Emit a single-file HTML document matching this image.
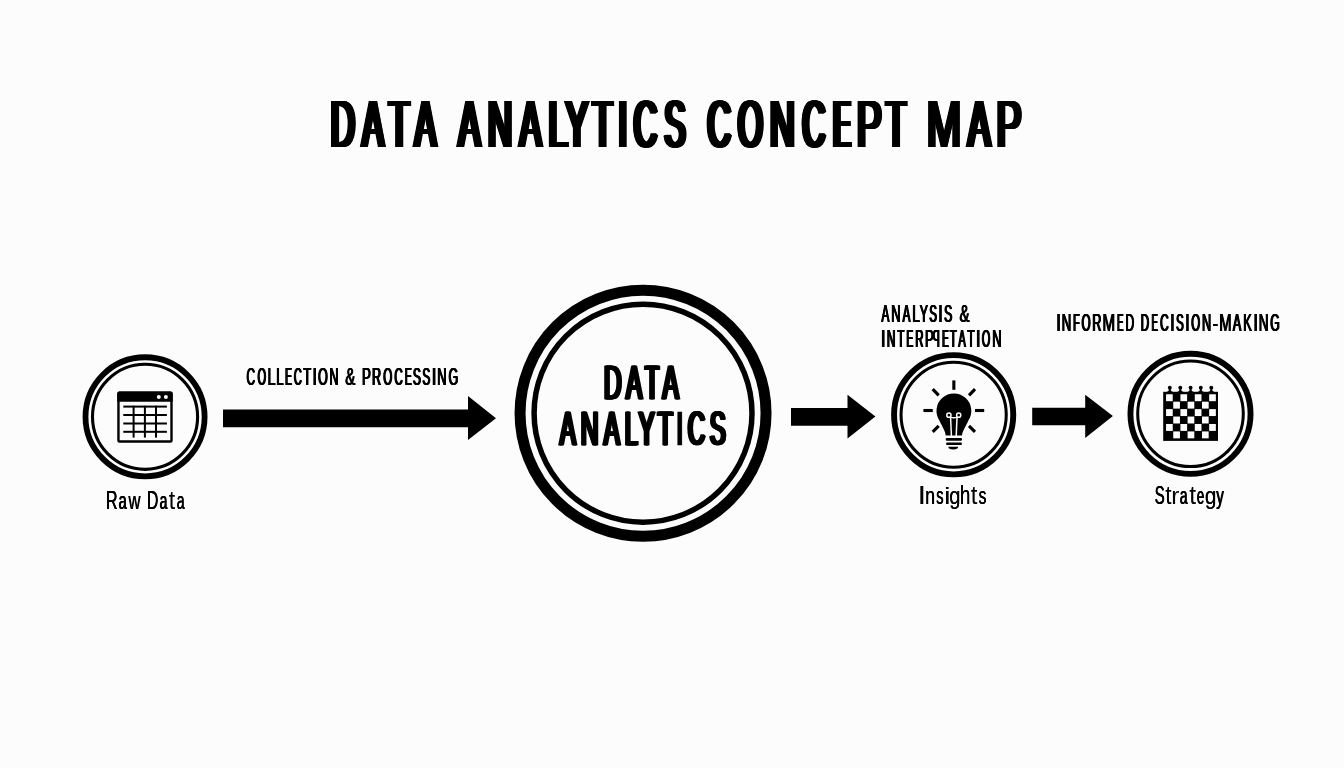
<!DOCTYPE html>
<html><head><meta charset="utf-8"><style>
html,body{margin:0;padding:0;background:#fcfcfc;}
svg{display:block;will-change:transform;}
text{font-family:"Liberation Sans",sans-serif;fill:#000;font-kerning:none;}
</style></head><body>
<svg width="1344" height="768" viewBox="0 0 1344 768">
<rect width="1344" height="768" fill="#fcfcfc"/>
<g fill="none" stroke="#000">
<circle cx="145.05" cy="416.8" r="59.55" stroke-width="5.8"/>
<circle cx="145.05" cy="416.8" r="52.55" stroke-width="3.1"/>
<circle cx="643.05" cy="413.2" r="123" stroke-width="11"/>
<circle cx="643.05" cy="413.2" r="108.95" stroke-width="5.5"/>
<circle cx="953.65" cy="414.75" r="59.6" stroke-width="5.9"/>
<circle cx="953.65" cy="414.75" r="52.6" stroke-width="3.05"/>
<circle cx="1190.5" cy="413.8" r="60.05" stroke-width="5.9"/>
<circle cx="1190.5" cy="413.8" r="52.8" stroke-width="3"/>
</g>
<g fill="#000">
<polygon points="223,409.5 468,409.5 468,396 496,418.2 468,440 468,427.2 223,427.2"/>
<polygon points="791,408.1 847.5,408.1 847.5,394.8 875.4,416.5 847.5,438.6 847.5,425.8 791,425.8"/>
<polygon points="1032.2,407.8 1085.2,407.8 1085.2,394.8 1112.9,415.9 1085.2,438.1 1085.2,425.2 1032.2,425.2"/>
</g>
<!-- table icon -->
<g>
<rect x="118.45" y="392.7" width="53.05" height="48.8" rx="1" fill="none" stroke="#000" stroke-width="2.4"/>
<path d="M117.25 401.7 V393.5 Q117.25 391.5 119.25 391.5 H170.7 Q172.7 391.5 172.7 393.5 V401.7 Z" fill="#000"/>
<circle cx="158.8" cy="396.9" r="2" fill="#fcfcfc"/>
<circle cx="165.9" cy="396.9" r="2" fill="#fcfcfc"/>
<g fill="#000">
<rect x="123.3" y="405.6" width="43.6" height="2"/>
<rect x="123.3" y="414" width="43.6" height="2"/>
<rect x="123.3" y="422.5" width="43.6" height="2"/>
<rect x="123.3" y="430.8" width="43.6" height="2"/>
<rect x="132.6" y="405.8" width="2" height="31.8"/>
<rect x="143.9" y="405.8" width="2" height="31.8"/>
<rect x="155" y="405.8" width="2" height="31.8"/>
</g>
</g>
<!-- bulb icon -->
<g>
<g stroke="#000" stroke-width="3.1" fill="none">
<line x1="953.85" y1="380.4" x2="953.85" y2="389.8"/>
<line x1="923.4" y1="410.5" x2="932.8" y2="410.5"/>
<line x1="975.0" y1="410.5" x2="984.2" y2="410.5"/>
<line x1="932.7" y1="389.1" x2="938.7" y2="395.4"/>
<line x1="975.0" y1="389.1" x2="969.0" y2="395.4"/>
<line x1="932.7" y1="431.9" x2="938.7" y2="425.9"/>
<line x1="975.0" y1="431.9" x2="969.0" y2="425.9"/>
</g>
<path d="M945.7 435.6 C945.6 431.5 942 426.5 939.4 420.5 A17.4 17.4 0 1 1 968.4 420.5 C965.8 426.5 962.2 431.5 962 435.6 Z" fill="#000"/>
<g stroke="#fcfcfc" stroke-width="1.5" fill="none">
<circle cx="948.9" cy="415.2" r="2.1"/>
<circle cx="958.7" cy="415.2" r="2.1"/>
<path d="M950.3 417.1 Q953.8 418.2 957.3 417.1"/>
<path d="M950.6 417.6 L951.4 436"/>
<path d="M957.0 417.6 L956.2 436"/>
</g>
<rect x="945.7" y="438.1" width="16.3" height="2.6" rx="1.2" fill="#000"/>
<rect x="946" y="442.5" width="16" height="2.5" rx="1.2" fill="#000"/>
<path d="M948.4 446.7 L958.1 446.7 C958.1 448.6 956.5 449.4 953.25 449.4 C950 449.4 948.4 448.6 948.4 446.7 Z" fill="#000"/>
</g>
<!-- chess icon -->
<g>
<rect x="1163.2" y="391.8" width="54.80" height="49.10" fill="#000"/>
<rect x="1166.05" y="394.25" width="6.69" height="6.93" fill="#fcfcfc"/>
<rect x="1180.42" y="394.25" width="6.69" height="6.93" fill="#fcfcfc"/>
<rect x="1194.79" y="394.25" width="6.69" height="6.93" fill="#fcfcfc"/>
<rect x="1209.16" y="394.25" width="6.69" height="6.93" fill="#fcfcfc"/>
<rect x="1173.24" y="401.68" width="6.69" height="6.93" fill="#fcfcfc"/>
<rect x="1187.61" y="401.68" width="6.69" height="6.93" fill="#fcfcfc"/>
<rect x="1201.98" y="401.68" width="6.69" height="6.93" fill="#fcfcfc"/>
<rect x="1166.05" y="409.12" width="6.69" height="6.93" fill="#fcfcfc"/>
<rect x="1180.42" y="409.12" width="6.69" height="6.93" fill="#fcfcfc"/>
<rect x="1194.79" y="409.12" width="6.69" height="6.93" fill="#fcfcfc"/>
<rect x="1209.16" y="409.12" width="6.69" height="6.93" fill="#fcfcfc"/>
<rect x="1173.24" y="416.55" width="6.69" height="6.93" fill="#fcfcfc"/>
<rect x="1187.61" y="416.55" width="6.69" height="6.93" fill="#fcfcfc"/>
<rect x="1201.98" y="416.55" width="6.69" height="6.93" fill="#fcfcfc"/>
<rect x="1166.05" y="423.98" width="6.69" height="6.93" fill="#fcfcfc"/>
<rect x="1180.42" y="423.98" width="6.69" height="6.93" fill="#fcfcfc"/>
<rect x="1194.79" y="423.98" width="6.69" height="6.93" fill="#fcfcfc"/>
<rect x="1209.16" y="423.98" width="6.69" height="6.93" fill="#fcfcfc"/>
<rect x="1173.24" y="431.42" width="6.69" height="6.93" fill="#fcfcfc"/>
<rect x="1187.61" y="431.42" width="6.69" height="6.93" fill="#fcfcfc"/>
<rect x="1201.98" y="431.42" width="6.69" height="6.93" fill="#fcfcfc"/>
<circle cx="1169.8" cy="387.7" r="1.95" fill="#000"/>
<path d="M1168.90 388.5 L1170.70 388.5 L1170.70 390 Q1171.00 391.4 1173.10 392 L1166.50 392 Q1168.60 391.4 1168.90 390 Z" fill="#000"/>
<circle cx="1180.3" cy="387.7" r="1.95" fill="#000"/>
<path d="M1179.40 388.5 L1181.20 388.5 L1181.20 390 Q1181.50 391.4 1183.60 392 L1177.00 392 Q1179.10 391.4 1179.40 390 Z" fill="#000"/>
<circle cx="1190.6" cy="387.7" r="1.95" fill="#000"/>
<path d="M1189.70 388.5 L1191.50 388.5 L1191.50 390 Q1191.80 391.4 1193.90 392 L1187.30 392 Q1189.40 391.4 1189.70 390 Z" fill="#000"/>
<circle cx="1200.8" cy="387.7" r="1.95" fill="#000"/>
<path d="M1199.90 388.5 L1201.70 388.5 L1201.70 390 Q1202.00 391.4 1204.10 392 L1197.50 392 Q1199.60 391.4 1199.90 390 Z" fill="#000"/>
<circle cx="1211.3" cy="387.7" r="1.95" fill="#000"/>
<path d="M1210.40 388.5 L1212.20 388.5 L1212.20 390 Q1212.50 391.4 1214.60 392 L1208.00 392 Q1210.10 391.4 1210.40 390 Z" fill="#000"/>
</g>

<g>
<text id="g1" transform="translate(328.26 146.99) scale(0.5005 1.000)" font-size="66.83" font-weight="400">D</text><use href="#g1" x="0.49"/><use href="#g1" x="0.98"/><use href="#g1" x="1.46"/><use href="#g1" x="1.95"/><use href="#g1" x="2.44"/><use href="#g1" x="2.93"/><use href="#g1" x="3.42"/><use href="#g1" x="3.90"/><use href="#g1" x="4.39"/><use href="#g1" x="4.88"/>
<text id="g2" transform="translate(359.84 146.99) scale(0.4777 1.000)" font-size="66.83" font-weight="400">A</text><use href="#g2" x="0.46"/><use href="#g2" x="0.91"/><use href="#g2" x="1.37"/><use href="#g2" x="1.83"/><use href="#g2" x="2.28"/><use href="#g2" x="2.74"/><use href="#g2" x="3.20"/><use href="#g2" x="3.65"/><use href="#g2" x="4.11"/><use href="#g2" x="4.56"/><use href="#g2" x="5.02"/>
<text id="g3" transform="translate(386.55 146.99) scale(0.5004 1.000)" font-size="66.83" font-weight="400">T</text><use href="#g3" x="0.49"/><use href="#g3" x="0.98"/><use href="#g3" x="1.46"/><use href="#g3" x="1.95"/><use href="#g3" x="2.44"/><use href="#g3" x="2.93"/><use href="#g3" x="3.42"/><use href="#g3" x="3.90"/><use href="#g3" x="4.39"/><use href="#g3" x="4.88"/>
<text id="g4" transform="translate(412.24 146.99) scale(0.4777 1.000)" font-size="66.83" font-weight="400">A</text><use href="#g4" x="0.46"/><use href="#g4" x="0.91"/><use href="#g4" x="1.37"/><use href="#g4" x="1.83"/><use href="#g4" x="2.28"/><use href="#g4" x="2.74"/><use href="#g4" x="3.20"/><use href="#g4" x="3.65"/><use href="#g4" x="4.11"/><use href="#g4" x="4.56"/><use href="#g4" x="5.02"/>
<text id="g5" transform="translate(456.04 146.99) scale(0.4882 1.000)" font-size="66.83" font-weight="400">A</text><use href="#g5" x="0.50"/><use href="#g5" x="0.99"/><use href="#g5" x="1.49"/><use href="#g5" x="1.98"/><use href="#g5" x="2.48"/><use href="#g5" x="2.97"/><use href="#g5" x="3.47"/><use href="#g5" x="3.96"/><use href="#g5" x="4.46"/><use href="#g5" x="4.96"/>
<text id="g6" transform="translate(485.44 146.99) scale(0.5046 1.000)" font-size="66.83" font-weight="400">N</text><use href="#g6" x="0.49"/><use href="#g6" x="0.97"/><use href="#g6" x="1.46"/><use href="#g6" x="1.94"/><use href="#g6" x="2.43"/><use href="#g6" x="2.91"/><use href="#g6" x="3.40"/><use href="#g6" x="3.88"/><use href="#g6" x="4.37"/><use href="#g6" x="4.85"/>
<text id="g7" transform="translate(517.14 146.99) scale(0.4869 1.000)" font-size="66.83" font-weight="400">A</text><use href="#g7" x="0.50"/><use href="#g7" x="0.99"/><use href="#g7" x="1.49"/><use href="#g7" x="1.99"/><use href="#g7" x="2.48"/><use href="#g7" x="2.98"/><use href="#g7" x="3.47"/><use href="#g7" x="3.97"/><use href="#g7" x="4.47"/><use href="#g7" x="4.96"/>
<text id="g8" transform="translate(546.05 146.99) scale(0.5204 1.000)" font-size="66.83" font-weight="400">L</text><use href="#g8" x="0.48"/><use href="#g8" x="0.95"/><use href="#g8" x="1.43"/><use href="#g8" x="1.90"/><use href="#g8" x="2.38"/><use href="#g8" x="2.85"/><use href="#g8" x="3.33"/><use href="#g8" x="3.80"/><use href="#g8" x="4.28"/><use href="#g8" x="4.75"/>
<text id="g9" transform="translate(562.95 146.99) scale(0.5166 1.000)" font-size="66.83" font-weight="400">Y</text><use href="#g9" x="0.48"/><use href="#g9" x="0.96"/><use href="#g9" x="1.43"/><use href="#g9" x="1.91"/><use href="#g9" x="2.39"/><use href="#g9" x="2.87"/><use href="#g9" x="3.34"/><use href="#g9" x="3.82"/><use href="#g9" x="4.30"/><use href="#g9" x="4.78"/>
<text id="g10" transform="translate(590.18 146.99) scale(0.4814 1.000)" font-size="66.83" font-weight="400">T</text><use href="#g10" x="0.50"/><use href="#g10" x="1.00"/><use href="#g10" x="1.50"/><use href="#g10" x="2.00"/><use href="#g10" x="2.50"/><use href="#g10" x="3.00"/><use href="#g10" x="3.50"/><use href="#g10" x="4.00"/><use href="#g10" x="4.50"/><use href="#g10" x="5.00"/>
<text id="g11" transform="translate(612.84 146.99) scale(1.0000 1.000)" font-size="66.83" font-weight="400">I</text><use href="#g11" x="0.45"/><use href="#g11" x="0.90"/><use href="#g11" x="1.35"/>
<text id="g12" transform="translate(631.27 146.99) scale(0.4819 1.000)" font-size="66.83" font-weight="400">C</text><use href="#g12" x="0.50"/><use href="#g12" x="1.00"/><use href="#g12" x="1.50"/><use href="#g12" x="2.00"/><use href="#g12" x="2.50"/><use href="#g12" x="3.00"/><use href="#g12" x="3.50"/><use href="#g12" x="4.00"/><use href="#g12" x="4.50"/><use href="#g12" x="4.99"/>
<text id="g13" transform="translate(661.97 146.99) scale(0.4712 1.000)" font-size="66.83" font-weight="400">S</text><use href="#g13" x="0.46"/><use href="#g13" x="0.92"/><use href="#g13" x="1.38"/><use href="#g13" x="1.84"/><use href="#g13" x="2.30"/><use href="#g13" x="2.76"/><use href="#g13" x="3.22"/><use href="#g13" x="3.68"/><use href="#g13" x="4.14"/><use href="#g13" x="4.60"/><use href="#g13" x="5.06"/>
<text id="g14" transform="translate(705.07 146.99) scale(0.4819 1.000)" font-size="66.83" font-weight="400">C</text><use href="#g14" x="0.50"/><use href="#g14" x="1.00"/><use href="#g14" x="1.50"/><use href="#g14" x="2.00"/><use href="#g14" x="2.50"/><use href="#g14" x="3.00"/><use href="#g14" x="3.50"/><use href="#g14" x="4.00"/><use href="#g14" x="4.50"/><use href="#g14" x="4.99"/>
<text id="g15" transform="translate(735.49 146.99) scale(0.4771 1.000)" font-size="66.83" font-weight="400">O</text><use href="#g15" x="0.46"/><use href="#g15" x="0.91"/><use href="#g15" x="1.37"/><use href="#g15" x="1.83"/><use href="#g15" x="2.28"/><use href="#g15" x="2.74"/><use href="#g15" x="3.20"/><use href="#g15" x="3.65"/><use href="#g15" x="4.11"/><use href="#g15" x="4.57"/><use href="#g15" x="5.02"/>
<text id="g16" transform="translate(767.47 146.99) scale(0.5174 1.000)" font-size="66.83" font-weight="400">N</text><use href="#g16" x="0.48"/><use href="#g16" x="0.95"/><use href="#g16" x="1.43"/><use href="#g16" x="1.91"/><use href="#g16" x="2.39"/><use href="#g16" x="2.86"/><use href="#g16" x="3.34"/><use href="#g16" x="3.82"/><use href="#g16" x="4.30"/><use href="#g16" x="4.77"/>
<text id="g17" transform="translate(799.91 146.99) scale(0.4708 1.000)" font-size="66.83" font-weight="400">C</text><use href="#g17" x="0.46"/><use href="#g17" x="0.92"/><use href="#g17" x="1.38"/><use href="#g17" x="1.84"/><use href="#g17" x="2.30"/><use href="#g17" x="2.76"/><use href="#g17" x="3.22"/><use href="#g17" x="3.68"/><use href="#g17" x="4.14"/><use href="#g17" x="4.60"/><use href="#g17" x="5.06"/>
<text id="g18" transform="translate(830.76 146.99) scale(0.3733 1.000)" font-size="66.83" font-weight="400">E</text><use href="#g18" x="0.47"/><use href="#g18" x="0.95"/><use href="#g18" x="1.42"/><use href="#g18" x="1.89"/><use href="#g18" x="2.36"/><use href="#g18" x="2.84"/><use href="#g18" x="3.31"/><use href="#g18" x="3.78"/><use href="#g18" x="4.25"/><use href="#g18" x="4.73"/><use href="#g18" x="5.20"/><use href="#g18" x="5.67"/>
<text id="g19" transform="translate(854.42 146.99) scale(0.5621 1.000)" font-size="66.83" font-weight="400">P</text><use href="#g19" x="0.50"/><use href="#g19" x="1.00"/><use href="#g19" x="1.50"/><use href="#g19" x="2.00"/><use href="#g19" x="2.50"/><use href="#g19" x="3.00"/><use href="#g19" x="3.50"/><use href="#g19" x="4.00"/><use href="#g19" x="4.49"/>
<text id="g20" transform="translate(883.68 146.99) scale(0.4814 1.000)" font-size="66.83" font-weight="400">T</text><use href="#g20" x="0.50"/><use href="#g20" x="1.00"/><use href="#g20" x="1.50"/><use href="#g20" x="2.00"/><use href="#g20" x="2.50"/><use href="#g20" x="3.00"/><use href="#g20" x="3.50"/><use href="#g20" x="4.00"/><use href="#g20" x="4.50"/><use href="#g20" x="5.00"/>
<text id="g21" transform="translate(924.72 146.99) scale(0.6183 1.000)" font-size="66.83" font-weight="400">M</text><use href="#g21" x="0.46"/><use href="#g21" x="0.92"/><use href="#g21" x="1.38"/><use href="#g21" x="1.84"/><use href="#g21" x="2.30"/><use href="#g21" x="2.76"/><use href="#g21" x="3.22"/><use href="#g21" x="3.68"/><use href="#g21" x="4.14"/>
<text id="g22" transform="translate(965.54 146.99) scale(0.5013 1.000)" font-size="66.83" font-weight="400">A</text><use href="#g22" x="0.49"/><use href="#g22" x="0.97"/><use href="#g22" x="1.46"/><use href="#g22" x="1.95"/><use href="#g22" x="2.44"/><use href="#g22" x="2.92"/><use href="#g22" x="3.41"/><use href="#g22" x="3.90"/><use href="#g22" x="4.39"/><use href="#g22" x="4.87"/>
<text id="g23" transform="translate(994.32 146.99) scale(0.5621 1.000)" font-size="66.83" font-weight="400">P</text><use href="#g23" x="0.50"/><use href="#g23" x="1.00"/><use href="#g23" x="1.50"/><use href="#g23" x="2.00"/><use href="#g23" x="2.50"/><use href="#g23" x="3.00"/><use href="#g23" x="3.50"/><use href="#g23" x="4.00"/><use href="#g23" x="4.49"/>
<text id="g24" transform="translate(245.90 385.40) scale(0.4909 1.000)" font-size="24.13" font-weight="400">C</text><use href="#g24" x="0.40"/><use href="#g24" x="0.80"/><use href="#g24" x="1.20"/>
<text id="g25" transform="translate(256.89 385.40) scale(0.4499 1.000)" font-size="24.13" font-weight="400">O</text><use href="#g25" x="0.43"/><use href="#g25" x="0.86"/><use href="#g25" x="1.29"/>
<text id="g26" transform="translate(267.10 385.40) scale(0.6075 1.000)" font-size="24.13" font-weight="400">L</text><use href="#g26" x="0.47"/><use href="#g26" x="0.94"/>
<text id="g27" transform="translate(275.72 385.40) scale(0.5480 1.000)" font-size="24.13" font-weight="400">L</text><use href="#g27" x="0.36"/><use href="#g27" x="0.71"/><use href="#g27" x="1.07"/>
<text id="g28" transform="translate(284.50 385.40) scale(0.4062 1.000)" font-size="24.13" font-weight="400">E</text><use href="#g28" x="0.46"/><use href="#g28" x="0.93"/><use href="#g28" x="1.39"/>
<text id="g29" transform="translate(293.25 385.40) scale(0.4526 1.000)" font-size="24.13" font-weight="400">C</text><use href="#g29" x="0.43"/><use href="#g29" x="0.86"/><use href="#g29" x="1.28"/>
<text id="g30" transform="translate(302.81 385.40) scale(0.5264 1.000)" font-size="24.13" font-weight="400">T</text><use href="#g30" x="0.37"/><use href="#g30" x="0.75"/><use href="#g30" x="1.12"/>
<text id="g31" transform="translate(311.17 385.40) scale(1.0000 1.000)" font-size="24.13" font-weight="400">I</text><use href="#g31" x="0.25"/>
<text id="g32" transform="translate(317.51 385.40) scale(0.5131 1.000)" font-size="24.13" font-weight="400">O</text><use href="#g32" x="0.38"/><use href="#g32" x="0.77"/><use href="#g32" x="1.15"/>
<text id="g33" transform="translate(328.88 385.40) scale(0.5163 1.000)" font-size="24.13" font-weight="400">N</text><use href="#g33" x="0.38"/><use href="#g33" x="0.76"/><use href="#g33" x="1.14"/>
<text id="g34" transform="translate(344.77 385.40) scale(0.6258 1.000)" font-size="24.13" font-weight="400">&amp;</text><use href="#g34" x="0.45"/><use href="#g34" x="0.90"/>
<text id="g35" transform="translate(361.40 385.40) scale(0.5567 1.000)" font-size="24.13" font-weight="400">P</text><use href="#g35" x="0.35"/><use href="#g35" x="0.70"/><use href="#g35" x="1.05"/>
<text id="g36" transform="translate(371.48 385.40) scale(0.5132 1.000)" font-size="24.13" font-weight="400">R</text><use href="#g36" x="0.38"/><use href="#g36" x="0.77"/><use href="#g36" x="1.15"/>
<text id="g37" transform="translate(382.66 385.40) scale(0.4710 1.000)" font-size="24.13" font-weight="400">O</text><use href="#g37" x="0.41"/><use href="#g37" x="0.83"/><use href="#g37" x="1.24"/>
<text id="g38" transform="translate(393.82 385.40) scale(0.4756 1.000)" font-size="24.13" font-weight="400">C</text><use href="#g38" x="0.41"/><use href="#g38" x="0.82"/><use href="#g38" x="1.23"/>
<text id="g39" transform="translate(404.26 385.40) scale(0.4246 1.000)" font-size="24.13" font-weight="400">E</text><use href="#g39" x="0.45"/><use href="#g39" x="0.90"/><use href="#g39" x="1.35"/>
<text id="g40" transform="translate(412.35 385.40) scale(0.4980 1.000)" font-size="24.13" font-weight="400">S</text><use href="#g40" x="0.39"/><use href="#g40" x="0.79"/><use href="#g40" x="1.18"/>
<text id="g41" transform="translate(421.76 385.40) scale(0.4894 1.000)" font-size="24.13" font-weight="400">S</text><use href="#g41" x="0.40"/><use href="#g41" x="0.80"/><use href="#g41" x="1.20"/>
<text id="g42" transform="translate(430.57 385.40) scale(1.0000 1.000)" font-size="24.13" font-weight="400">I</text><use href="#g42" x="0.45"/>
<text id="g43" transform="translate(436.64 385.40) scale(0.5341 1.000)" font-size="24.13" font-weight="400">N</text><use href="#g43" x="0.37"/><use href="#g43" x="0.73"/><use href="#g43" x="1.10"/>
<text id="g44" transform="translate(447.98 385.40) scale(0.5108 1.000)" font-size="24.13" font-weight="400">G</text><use href="#g44" x="0.38"/><use href="#g44" x="0.77"/><use href="#g44" x="1.15"/>
<text id="g45" transform="translate(602.40 398.69) scale(0.5174 1.000)" font-size="47.22" font-weight="400" stroke="#000" stroke-width="0.41">D</text><use href="#g45" x="0.44"/><use href="#g45" x="0.89"/><use href="#g45" x="1.33"/><use href="#g45" x="1.78"/><use href="#g45" x="2.22"/><use href="#g45" x="2.67"/><use href="#g45" x="3.11"/>
<text id="g46" transform="translate(624.46 398.69) scale(0.5052 1.000)" font-size="47.22" font-weight="400" stroke="#000" stroke-width="0.41">A</text><use href="#g46" x="0.45"/><use href="#g46" x="0.91"/><use href="#g46" x="1.36"/><use href="#g46" x="1.81"/><use href="#g46" x="2.27"/><use href="#g46" x="2.72"/><use href="#g46" x="3.17"/>
<text id="g47" transform="translate(643.60 398.69) scale(0.4707 1.000)" font-size="47.22" font-weight="400" stroke="#000" stroke-width="0.41">T</text><use href="#g47" x="0.48"/><use href="#g47" x="0.95"/><use href="#g47" x="1.43"/><use href="#g47" x="1.91"/><use href="#g47" x="2.39"/><use href="#g47" x="2.86"/><use href="#g47" x="3.34"/>
<text id="g48" transform="translate(661.06 398.69) scale(0.5089 1.000)" font-size="47.22" font-weight="400" stroke="#000" stroke-width="0.41">A</text><use href="#g48" x="0.45"/><use href="#g48" x="0.90"/><use href="#g48" x="1.35"/><use href="#g48" x="1.80"/><use href="#g48" x="2.25"/><use href="#g48" x="2.71"/><use href="#g48" x="3.16"/>
<text id="g49" transform="translate(558.25 445.01) scale(0.5017 1.000)" font-size="47.55" font-weight="400" stroke="#000" stroke-width="0.39">A</text><use href="#g49" x="0.46"/><use href="#g49" x="0.91"/><use href="#g49" x="1.37"/><use href="#g49" x="1.82"/><use href="#g49" x="2.28"/><use href="#g49" x="2.73"/><use href="#g49" x="3.19"/>
<text id="g50" transform="translate(579.17 445.01) scale(0.5195 1.000)" font-size="47.55" font-weight="400" stroke="#000" stroke-width="0.39">N</text><use href="#g50" x="0.44"/><use href="#g50" x="0.89"/><use href="#g50" x="1.33"/><use href="#g50" x="1.77"/><use href="#g50" x="2.22"/><use href="#g50" x="2.66"/><use href="#g50" x="3.10"/>
<text id="g51" transform="translate(602.25 445.01) scale(0.4980 1.000)" font-size="47.55" font-weight="400" stroke="#000" stroke-width="0.39">A</text><use href="#g51" x="0.46"/><use href="#g51" x="0.92"/><use href="#g51" x="1.37"/><use href="#g51" x="1.83"/><use href="#g51" x="2.29"/><use href="#g51" x="2.75"/><use href="#g51" x="3.21"/>
<text id="g52" transform="translate(623.21 445.01) scale(0.4836 1.000)" font-size="47.55" font-weight="400" stroke="#000" stroke-width="0.39">L</text><use href="#g52" x="0.47"/><use href="#g52" x="0.94"/><use href="#g52" x="1.40"/><use href="#g52" x="1.87"/><use href="#g52" x="2.34"/><use href="#g52" x="2.81"/><use href="#g52" x="3.27"/>
<text id="g53" transform="translate(637.07 445.01) scale(0.5039 1.000)" font-size="47.55" font-weight="400" stroke="#000" stroke-width="0.39">Y</text><use href="#g53" x="0.45"/><use href="#g53" x="0.91"/><use href="#g53" x="1.36"/><use href="#g53" x="1.82"/><use href="#g53" x="2.27"/><use href="#g53" x="2.72"/><use href="#g53" x="3.18"/>
<text id="g54" transform="translate(656.14 445.01) scale(0.5208 1.000)" font-size="47.55" font-weight="400" stroke="#000" stroke-width="0.39">T</text><use href="#g54" x="0.44"/><use href="#g54" x="0.88"/><use href="#g54" x="1.33"/><use href="#g54" x="1.77"/><use href="#g54" x="2.21"/><use href="#g54" x="2.65"/><use href="#g54" x="3.10"/>
<text id="g55" transform="translate(673.40 445.01) scale(0.9542 1.000)" font-size="47.55" font-weight="400" stroke="#000" stroke-width="0.39">I</text>
<text id="g56" transform="translate(686.19 445.01) scale(0.4982 1.000)" font-size="47.55" font-weight="400" stroke="#000" stroke-width="0.39">C</text><use href="#g56" x="0.46"/><use href="#g56" x="0.92"/><use href="#g56" x="1.37"/><use href="#g56" x="1.83"/><use href="#g56" x="2.29"/><use href="#g56" x="2.75"/><use href="#g56" x="3.20"/>
<text id="g57" transform="translate(708.22 445.01) scale(0.4967 1.000)" font-size="47.55" font-weight="400" stroke="#000" stroke-width="0.39">S</text><use href="#g57" x="0.46"/><use href="#g57" x="0.92"/><use href="#g57" x="1.38"/><use href="#g57" x="1.84"/><use href="#g57" x="2.29"/><use href="#g57" x="2.75"/><use href="#g57" x="3.21"/>
<text id="g58" transform="translate(880.88 322.09) scale(0.5030 1.000)" font-size="23.37" font-weight="400">A</text><use href="#g58" x="0.40"/><use href="#g58" x="0.80"/><use href="#g58" x="1.19"/>
<text id="g59" transform="translate(890.75 322.09) scale(0.5515 1.000)" font-size="23.37" font-weight="400">N</text><use href="#g59" x="0.36"/><use href="#g59" x="0.73"/><use href="#g59" x="1.09"/>
<text id="g60" transform="translate(901.98 322.09) scale(0.4955 1.000)" font-size="23.37" font-weight="400">A</text><use href="#g60" x="0.40"/><use href="#g60" x="0.81"/><use href="#g60" x="1.21"/>
<text id="g61" transform="translate(911.68 322.09) scale(0.5904 1.000)" font-size="23.37" font-weight="400">L</text><use href="#g61" x="0.33"/><use href="#g61" x="0.67"/><use href="#g61" x="1.00"/>
<text id="g62" transform="translate(919.14 322.09) scale(0.5248 1.000)" font-size="23.37" font-weight="400">Y</text><use href="#g62" x="0.38"/><use href="#g62" x="0.76"/><use href="#g62" x="1.15"/>
<text id="g63" transform="translate(928.69 322.09) scale(0.4877 1.000)" font-size="23.37" font-weight="400">S</text><use href="#g63" x="0.41"/><use href="#g63" x="0.82"/><use href="#g63" x="1.23"/>
<text id="g64" transform="translate(937.06 322.09) scale(1.0000 1.000)" font-size="23.37" font-weight="400">I</text><use href="#g64" x="0.50"/>
<text id="g65" transform="translate(943.55 322.09) scale(0.5231 1.000)" font-size="23.37" font-weight="400">S</text><use href="#g65" x="0.38"/><use href="#g65" x="0.77"/><use href="#g65" x="1.15"/>
<text id="g66" transform="translate(959.08 322.09) scale(0.6462 1.000)" font-size="23.37" font-weight="400">&amp;</text><use href="#g66" x="0.44"/><use href="#g66" x="0.88"/>
<text id="g67" transform="translate(879.86 346.69) scale(1.0000 1.000)" font-size="23.37" font-weight="400">I</text><use href="#g67" x="0.50"/>
<text id="g68" transform="translate(886.34 346.69) scale(0.5056 1.000)" font-size="23.37" font-weight="400">N</text><use href="#g68" x="0.40"/><use href="#g68" x="0.79"/><use href="#g68" x="1.19"/>
<text id="g69" transform="translate(896.75 346.69) scale(0.4892 1.000)" font-size="23.37" font-weight="400">T</text><use href="#g69" x="0.41"/><use href="#g69" x="0.82"/><use href="#g69" x="1.23"/>
<text id="g70" transform="translate(905.76 346.69) scale(0.4385 1.000)" font-size="23.37" font-weight="400">E</text><use href="#g70" x="0.45"/><use href="#g70" x="0.89"/><use href="#g70" x="1.34"/>
<text id="g71" transform="translate(914.69 346.69) scale(0.4786 1.000)" font-size="23.37" font-weight="400">R</text><use href="#g71" x="0.42"/><use href="#g71" x="0.83"/><use href="#g71" x="1.25"/>
<text id="g72" transform="translate(924.52 346.69) scale(0.5651 1.000)" font-size="23.37" font-weight="400">P</text><use href="#g72" x="0.35"/><use href="#g72" x="0.71"/><use href="#g72" x="1.06"/>
<g transform="translate(1872.10 0) scale(-1 1)"><text id="g73" transform="translate(931.75 346.69) scale(0.4482 1.000)" font-size="23.37" font-weight="400">P</text><use href="#g73" x="0.44"/><use href="#g73" x="0.88"/><use href="#g73" x="1.32"/></g>
<text id="g74" transform="translate(941.52 346.69) scale(0.4099 1.000)" font-size="23.37" font-weight="400">E</text><use href="#g74" x="0.47"/><use href="#g74" x="0.93"/><use href="#g74" x="1.40"/>
<text id="g75" transform="translate(949.15 346.69) scale(0.4801 1.000)" font-size="23.37" font-weight="400">T</text><use href="#g75" x="0.42"/><use href="#g75" x="0.83"/><use href="#g75" x="1.25"/>
<text id="g76" transform="translate(957.78 346.69) scale(0.4730 1.000)" font-size="23.37" font-weight="400">A</text><use href="#g76" x="0.42"/><use href="#g76" x="0.84"/><use href="#g76" x="1.26"/>
<text id="g77" transform="translate(966.63 346.69) scale(0.5254 1.000)" font-size="23.37" font-weight="400">T</text><use href="#g77" x="0.38"/><use href="#g77" x="0.76"/><use href="#g77" x="1.15"/>
<text id="g78" transform="translate(974.86 346.69) scale(1.0000 1.000)" font-size="23.37" font-weight="400">I</text><use href="#g78" x="0.30"/>
<text id="g79" transform="translate(981.30 346.69) scale(0.4573 1.000)" font-size="23.37" font-weight="400">O</text><use href="#g79" x="0.43"/><use href="#g79" x="0.86"/><use href="#g79" x="1.30"/>
<text id="g80" transform="translate(991.65 346.69) scale(0.5515 1.000)" font-size="23.37" font-weight="400">N</text><use href="#g80" x="0.36"/><use href="#g80" x="0.73"/><use href="#g80" x="1.09"/>
<text id="g81" transform="translate(1054.90 331.40) scale(1.0000 1.000)" font-size="23.84" font-weight="400">I</text><use href="#g81" x="0.48"/>
<text id="g82" transform="translate(1061.23 331.40) scale(0.5496 1.000)" font-size="23.84" font-weight="400">N</text><use href="#g82" x="0.36"/><use href="#g82" x="0.72"/><use href="#g82" x="1.08"/>
<text id="g83" transform="translate(1072.53 331.40) scale(0.4452 1.000)" font-size="23.84" font-weight="400">F</text><use href="#g83" x="0.44"/><use href="#g83" x="0.88"/><use href="#g83" x="1.31"/>
<text id="g84" transform="translate(1080.95 331.40) scale(0.4838 1.000)" font-size="23.84" font-weight="400">O</text><use href="#g84" x="0.41"/><use href="#g84" x="0.82"/><use href="#g84" x="1.23"/>
<text id="g85" transform="translate(1091.78 331.40) scale(0.5194 1.000)" font-size="23.84" font-weight="400">R</text><use href="#g85" x="0.38"/><use href="#g85" x="0.77"/><use href="#g85" x="1.15"/>
<text id="g86" transform="translate(1102.06 331.40) scale(0.6337 1.000)" font-size="23.84" font-weight="400">M</text><use href="#g86" x="0.45"/><use href="#g86" x="0.90"/>
<text id="g87" transform="translate(1116.43 331.40) scale(0.3924 1.000)" font-size="23.84" font-weight="400">E</text><use href="#g87" x="0.48"/><use href="#g87" x="0.95"/><use href="#g87" x="1.43"/>
<text id="g88" transform="translate(1124.91 331.40) scale(0.5041 1.000)" font-size="23.84" font-weight="400">D</text><use href="#g88" x="0.39"/><use href="#g88" x="0.79"/><use href="#g88" x="1.18"/>
<text id="g89" transform="translate(1140.16 331.40) scale(0.4789 1.000)" font-size="23.84" font-weight="400">D</text><use href="#g89" x="0.41"/><use href="#g89" x="0.83"/><use href="#g89" x="1.24"/>
<text id="g90" transform="translate(1151.07 331.40) scale(0.3737 1.000)" font-size="23.84" font-weight="400">E</text><use href="#g90" x="0.49"/><use href="#g90" x="0.98"/><use href="#g90" x="1.47"/>
<text id="g91" transform="translate(1159.50 331.40) scale(0.4969 1.000)" font-size="23.84" font-weight="400">C</text><use href="#g91" x="0.40"/><use href="#g91" x="0.80"/><use href="#g91" x="1.20"/>
<text id="g92" transform="translate(1169.10 331.40) scale(1.0000 1.000)" font-size="23.84" font-weight="400">I</text><use href="#g92" x="0.23"/>
<text id="g93" transform="translate(1175.48 331.40) scale(0.4780 1.000)" font-size="23.84" font-weight="400">S</text><use href="#g93" x="0.41"/><use href="#g93" x="0.83"/><use href="#g93" x="1.24"/>
<text id="g94" transform="translate(1184.05 331.40) scale(1.0000 1.000)" font-size="23.84" font-weight="400">I</text><use href="#g94" x="0.23"/>
<text id="g95" transform="translate(1190.67 331.40) scale(0.4696 1.000)" font-size="23.84" font-weight="400">O</text><use href="#g95" x="0.42"/><use href="#g95" x="0.84"/><use href="#g95" x="1.26"/>
<text id="g96" transform="translate(1201.46 331.40) scale(0.5316 1.000)" font-size="23.84" font-weight="400">N</text><use href="#g96" x="0.37"/><use href="#g96" x="0.75"/><use href="#g96" x="1.12"/>
<text id="g97" transform="translate(1212.14 331.40) scale(0.7217 1.000)" font-size="23.84" font-weight="400">-</text><use href="#g97" x="0.35"/><use href="#g97" x="0.70"/>
<text id="g98" transform="translate(1218.79 331.40) scale(0.6191 1.000)" font-size="23.84" font-weight="400">M</text><use href="#g98" x="0.46"/><use href="#g98" x="0.93"/>
<text id="g99" transform="translate(1232.28 331.40) scale(0.5225 1.000)" font-size="23.84" font-weight="400">A</text><use href="#g99" x="0.38"/><use href="#g99" x="0.76"/><use href="#g99" x="1.14"/>
<text id="g100" transform="translate(1242.64 331.40) scale(0.5410 1.000)" font-size="23.84" font-weight="400">K</text><use href="#g100" x="0.37"/><use href="#g100" x="0.73"/><use href="#g100" x="1.10"/>
<text id="g101" transform="translate(1252.20 331.40) scale(1.0000 1.000)" font-size="23.84" font-weight="400">I</text><use href="#g101" x="0.28"/>
<text id="g102" transform="translate(1258.29 331.40) scale(0.5676 1.000)" font-size="23.84" font-weight="400">N</text><use href="#g102" x="0.35"/><use href="#g102" x="0.69"/><use href="#g102" x="1.04"/>
<text id="g103" transform="translate(1269.70 331.40) scale(0.5021 1.000)" font-size="23.84" font-weight="400">G</text><use href="#g103" x="0.40"/><use href="#g103" x="0.79"/><use href="#g103" x="1.19"/>
<text id="g104" transform="translate(105.69 508.80) scale(0.6210 1.000)" font-size="25.73" font-weight="400">R</text><use href="#g104" x="0.26"/><use href="#g104" x="0.51"/>
<text id="g105" transform="translate(118.28 508.80) scale(0.5636 0.900)" font-size="25.73" font-weight="400">a</text><use href="#g105" x="0.33"/><use href="#g105" x="0.65"/>
<text id="g106" transform="translate(128.22 508.80) scale(0.6447 0.900)" font-size="25.73" font-weight="400">w</text><use href="#g106" x="0.46"/>
<text id="g107" transform="translate(146.82 508.80) scale(0.6072 1.000)" font-size="25.73" font-weight="400">D</text><use href="#g107" x="0.27"/><use href="#g107" x="0.55"/>
<text id="g108" transform="translate(159.31 508.80) scale(0.5359 0.900)" font-size="25.73" font-weight="400">a</text><use href="#g108" x="0.36"/><use href="#g108" x="0.72"/>
<text id="g109" transform="translate(168.85 508.80) scale(0.8980 1.000)" font-size="25.73" font-weight="400">t</text>
<text id="g110" transform="translate(176.40 508.80) scale(0.5452 0.900)" font-size="25.73" font-weight="400">a</text><use href="#g110" x="0.35"/><use href="#g110" x="0.70"/>
<text id="g111" transform="translate(918.11 504.10) scale(1.0000 1.000)" font-size="25.87" font-weight="400">I</text><use href="#g111" x="0.29"/>
<text id="g112" transform="translate(925.04 504.10) scale(0.6756 0.900)" font-size="25.87" font-weight="400">n</text><use href="#g112" x="0.37"/>
<text id="g113" transform="translate(935.89 504.10) scale(0.5634 0.900)" font-size="25.87" font-weight="400">s</text><use href="#g113" x="0.32"/><use href="#g113" x="0.64"/>
<text id="g114" transform="translate(944.17 504.10) scale(1.0000 0.900)" font-size="25.87" font-weight="400">i</text><use href="#g114" x="0.23"/>
<text id="g115" transform="translate(949.25 504.10) scale(0.7802 0.900)" font-size="25.87" font-weight="400">g</text><use href="#g115" x="0.12"/>
<text id="g116" transform="translate(959.79 504.10) scale(0.7287 1.000)" font-size="25.87" font-weight="400">h</text><use href="#g116" x="0.25"/>
<text id="g117" transform="translate(970.64 504.10) scale(0.9233 1.000)" font-size="25.87" font-weight="400">t</text>
<text id="g118" transform="translate(978.48 504.10) scale(0.5859 0.900)" font-size="25.87" font-weight="400">s</text><use href="#g118" x="0.30"/><use href="#g118" x="0.59"/>
<text id="g119" transform="translate(1154.42 504.10) scale(0.5766 1.000)" font-size="25.87" font-weight="400">S</text><use href="#g119" x="0.31"/><use href="#g119" x="0.61"/>
<text id="g120" transform="translate(1165.16 504.10) scale(0.8779 1.000)" font-size="25.87" font-weight="400">t</text>
<text id="g121" transform="translate(1171.28 504.10) scale(0.9431 0.900)" font-size="25.87" font-weight="400">r</text>
<text id="g122" transform="translate(1179.51 504.10) scale(0.5329 0.900)" font-size="25.87" font-weight="400">a</text><use href="#g122" x="0.36"/><use href="#g122" x="0.72"/>
<text id="g123" transform="translate(1189.13 504.10) scale(0.9535 1.000)" font-size="25.87" font-weight="400">t</text>
<text id="g124" transform="translate(1196.55 504.10) scale(0.5034 0.900)" font-size="25.87" font-weight="400">e</text><use href="#g124" x="0.39"/><use href="#g124" x="0.79"/>
<text id="g125" transform="translate(1204.83 504.10) scale(0.8018 0.900)" font-size="25.87" font-weight="400">g</text><use href="#g125" x="0.07"/>
<text id="g126" transform="translate(1216.06 504.10) scale(0.5760 0.900)" font-size="25.87" font-weight="400">y</text><use href="#g126" x="0.31"/><use href="#g126" x="0.61"/>
</g>
</svg>
</body></html>
